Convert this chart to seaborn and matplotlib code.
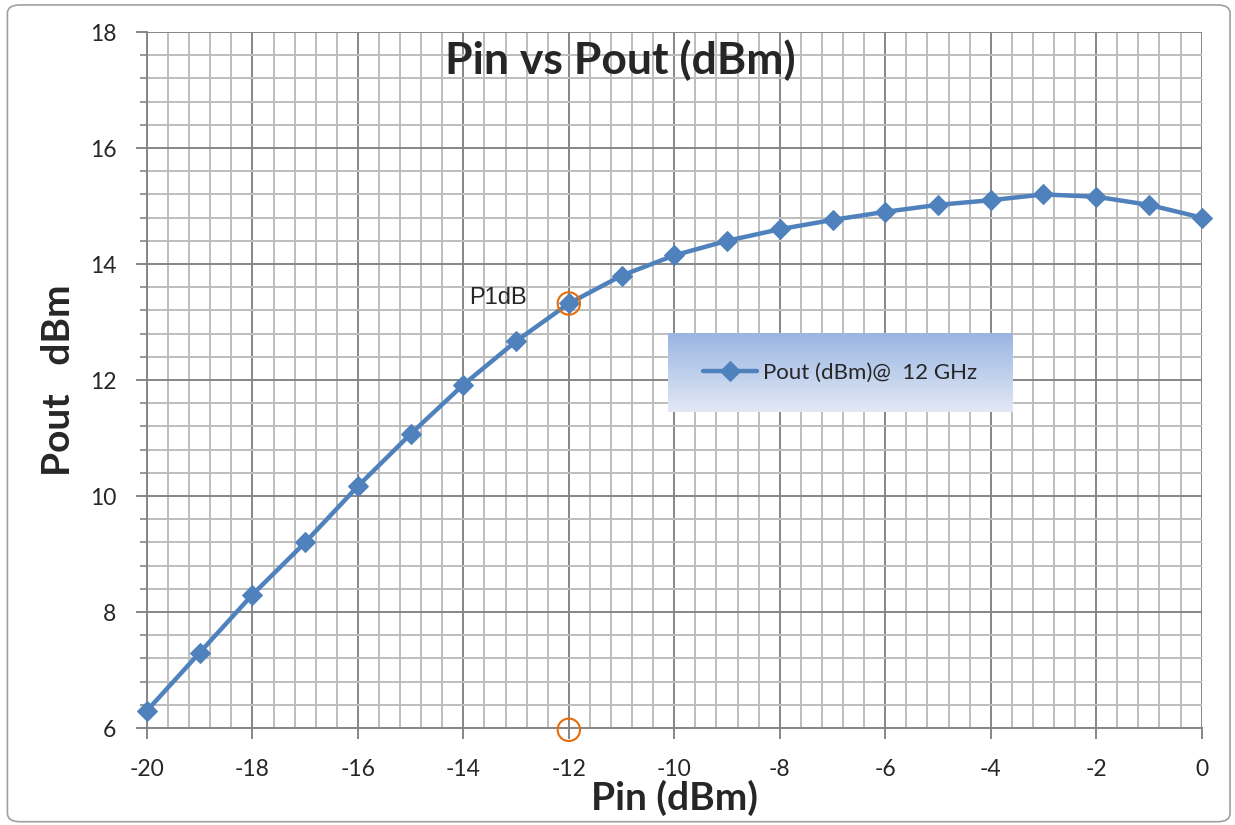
import numpy as np
import pandas as pd
import matplotlib
matplotlib.use("Agg")
import matplotlib.pyplot as plt
import seaborn as sns
from matplotlib.ticker import MultipleLocator
from matplotlib.patches import FancyBboxPatch

pin = [-20, -19, -18, -17, -16, -15, -14, -13, -12, -11, -10,
       -9, -8, -7, -6, -5, -4, -3, -2, -1, 0]
pout = [6.3, 7.3, 8.3, 9.2, 10.17, 11.07, 11.92, 12.67, 13.32, 13.8, 14.15,
        14.4, 14.6, 14.76, 14.9, 15.02, 15.1, 15.2, 15.16, 15.02, 14.8]
p1db_x = [-12, -12]
p1db_y = [13.32, 5.97]

df = pd.DataFrame({"Pin": pin, "Pout": pout})

sns.set_style("white")
plt.rcParams['font.family'] = ['Lato', 'DejaVu Sans']

fig = plt.figure(figsize=(12.35, 8.25), dpi=100)
ax = fig.add_axes([0.119, 0.1175, 0.854, 0.8437])

# grid like the excel chart
ax.xaxis.set_major_locator(MultipleLocator(2))
ax.xaxis.set_minor_locator(MultipleLocator(0.4))
ax.yaxis.set_major_locator(MultipleLocator(2))
ax.yaxis.set_minor_locator(MultipleLocator(0.4))
ax.grid(which='minor', color='#BDBDBD', linewidth=1.4)
ax.grid(which='major', color='#868686', linewidth=1.4)
ax.set_axisbelow(True)

sns.lineplot(data=df, x="Pin", y="Pout", ax=ax, color='#4F81BD', linewidth=3.2,
             marker='D', markersize=10, markeredgecolor='#4F81BD',
             label='Pout (dBm)@  12 GHz', zorder=3, clip_on=False)

ax.scatter(p1db_x, p1db_y, s=260, facecolors='none', edgecolors='#E46C0A',
           linewidths=1.5, zorder=4, clip_on=False)
ax.text(-12.8, 13.42, 'P1dB', fontsize=17, ha='right', va='center',
        family=['Liberation Sans', 'DejaVu Sans'])

ax.set_xlim(-20, 0)
ax.set_ylim(6, 18)
for s in ['top', 'right']:
    ax.spines[s].set_visible(False)
for s in ['left', 'bottom']:
    ax.spines[s].set_color('#868686')
    ax.spines[s].set_linewidth(1.4)

ax.tick_params(axis='both', which='major', labelsize=16.5, length=8, width=1.4,
               color='#868686', direction='out', bottom=True, left=True)
ax.tick_params(axis='x', which='major', pad=14)
ax.tick_params(axis='y', which='major', pad=14)
ax.tick_params(axis='y', which='minor', length=5, width=1.2, color='#868686',
               direction='out', left=True)
ax.tick_params(axis='x', which='minor', bottom=False)
ax.set_xticks(range(-20, 1, 2))
ax.set_xticklabels([str(v) for v in range(-20, 1, 2)])

ax.set_xlabel('Pin (dBm)', fontsize=28, fontweight='bold', labelpad=0)
ax.set_ylabel('Pout   dBm', fontsize=28, fontweight='bold', labelpad=10)
fig.text(0.502, 0.927, 'Pin vs Pout (dBm)', fontsize=32,
         fontweight='bold', ha='center', va='center')

# gradient legend box
grad = np.linspace(0, 1, 256).reshape(-1, 1)
cmap = matplotlib.colors.LinearSegmentedColormap.from_list(
    'g', ['#9AB5E2', '#E2E9F5'])
x0, x1 = -10.12, -3.58
y0, y1 = 11.45, 12.81
ax.imshow(grad, cmap=cmap, extent=[x0, x1, y0, y1], aspect='auto',
          origin='upper', zorder=5)
leg = ax.legend(loc='center', bbox_to_anchor=(((x0 + x1) / 2 + 20) / 20,
                                              ((y0 + y1) / 2 - 6) / 12),
                frameon=False, fontsize=16, handlelength=2.4, handletextpad=0.3)
leg.set_zorder(6)
ax.set_xlim(-20, 0)
ax.set_ylim(6, 18)

# outer chart border
fig.patches.append(FancyBboxPatch((0.006, 0.004), 0.99, 0.99,
                                  boxstyle='round,pad=0,rounding_size=0.01',
                                  transform=fig.transFigure, fill=False,
                                  edgecolor='#A0A0A0', linewidth=1.2))

fig.savefig('out.png', dpi=100)
